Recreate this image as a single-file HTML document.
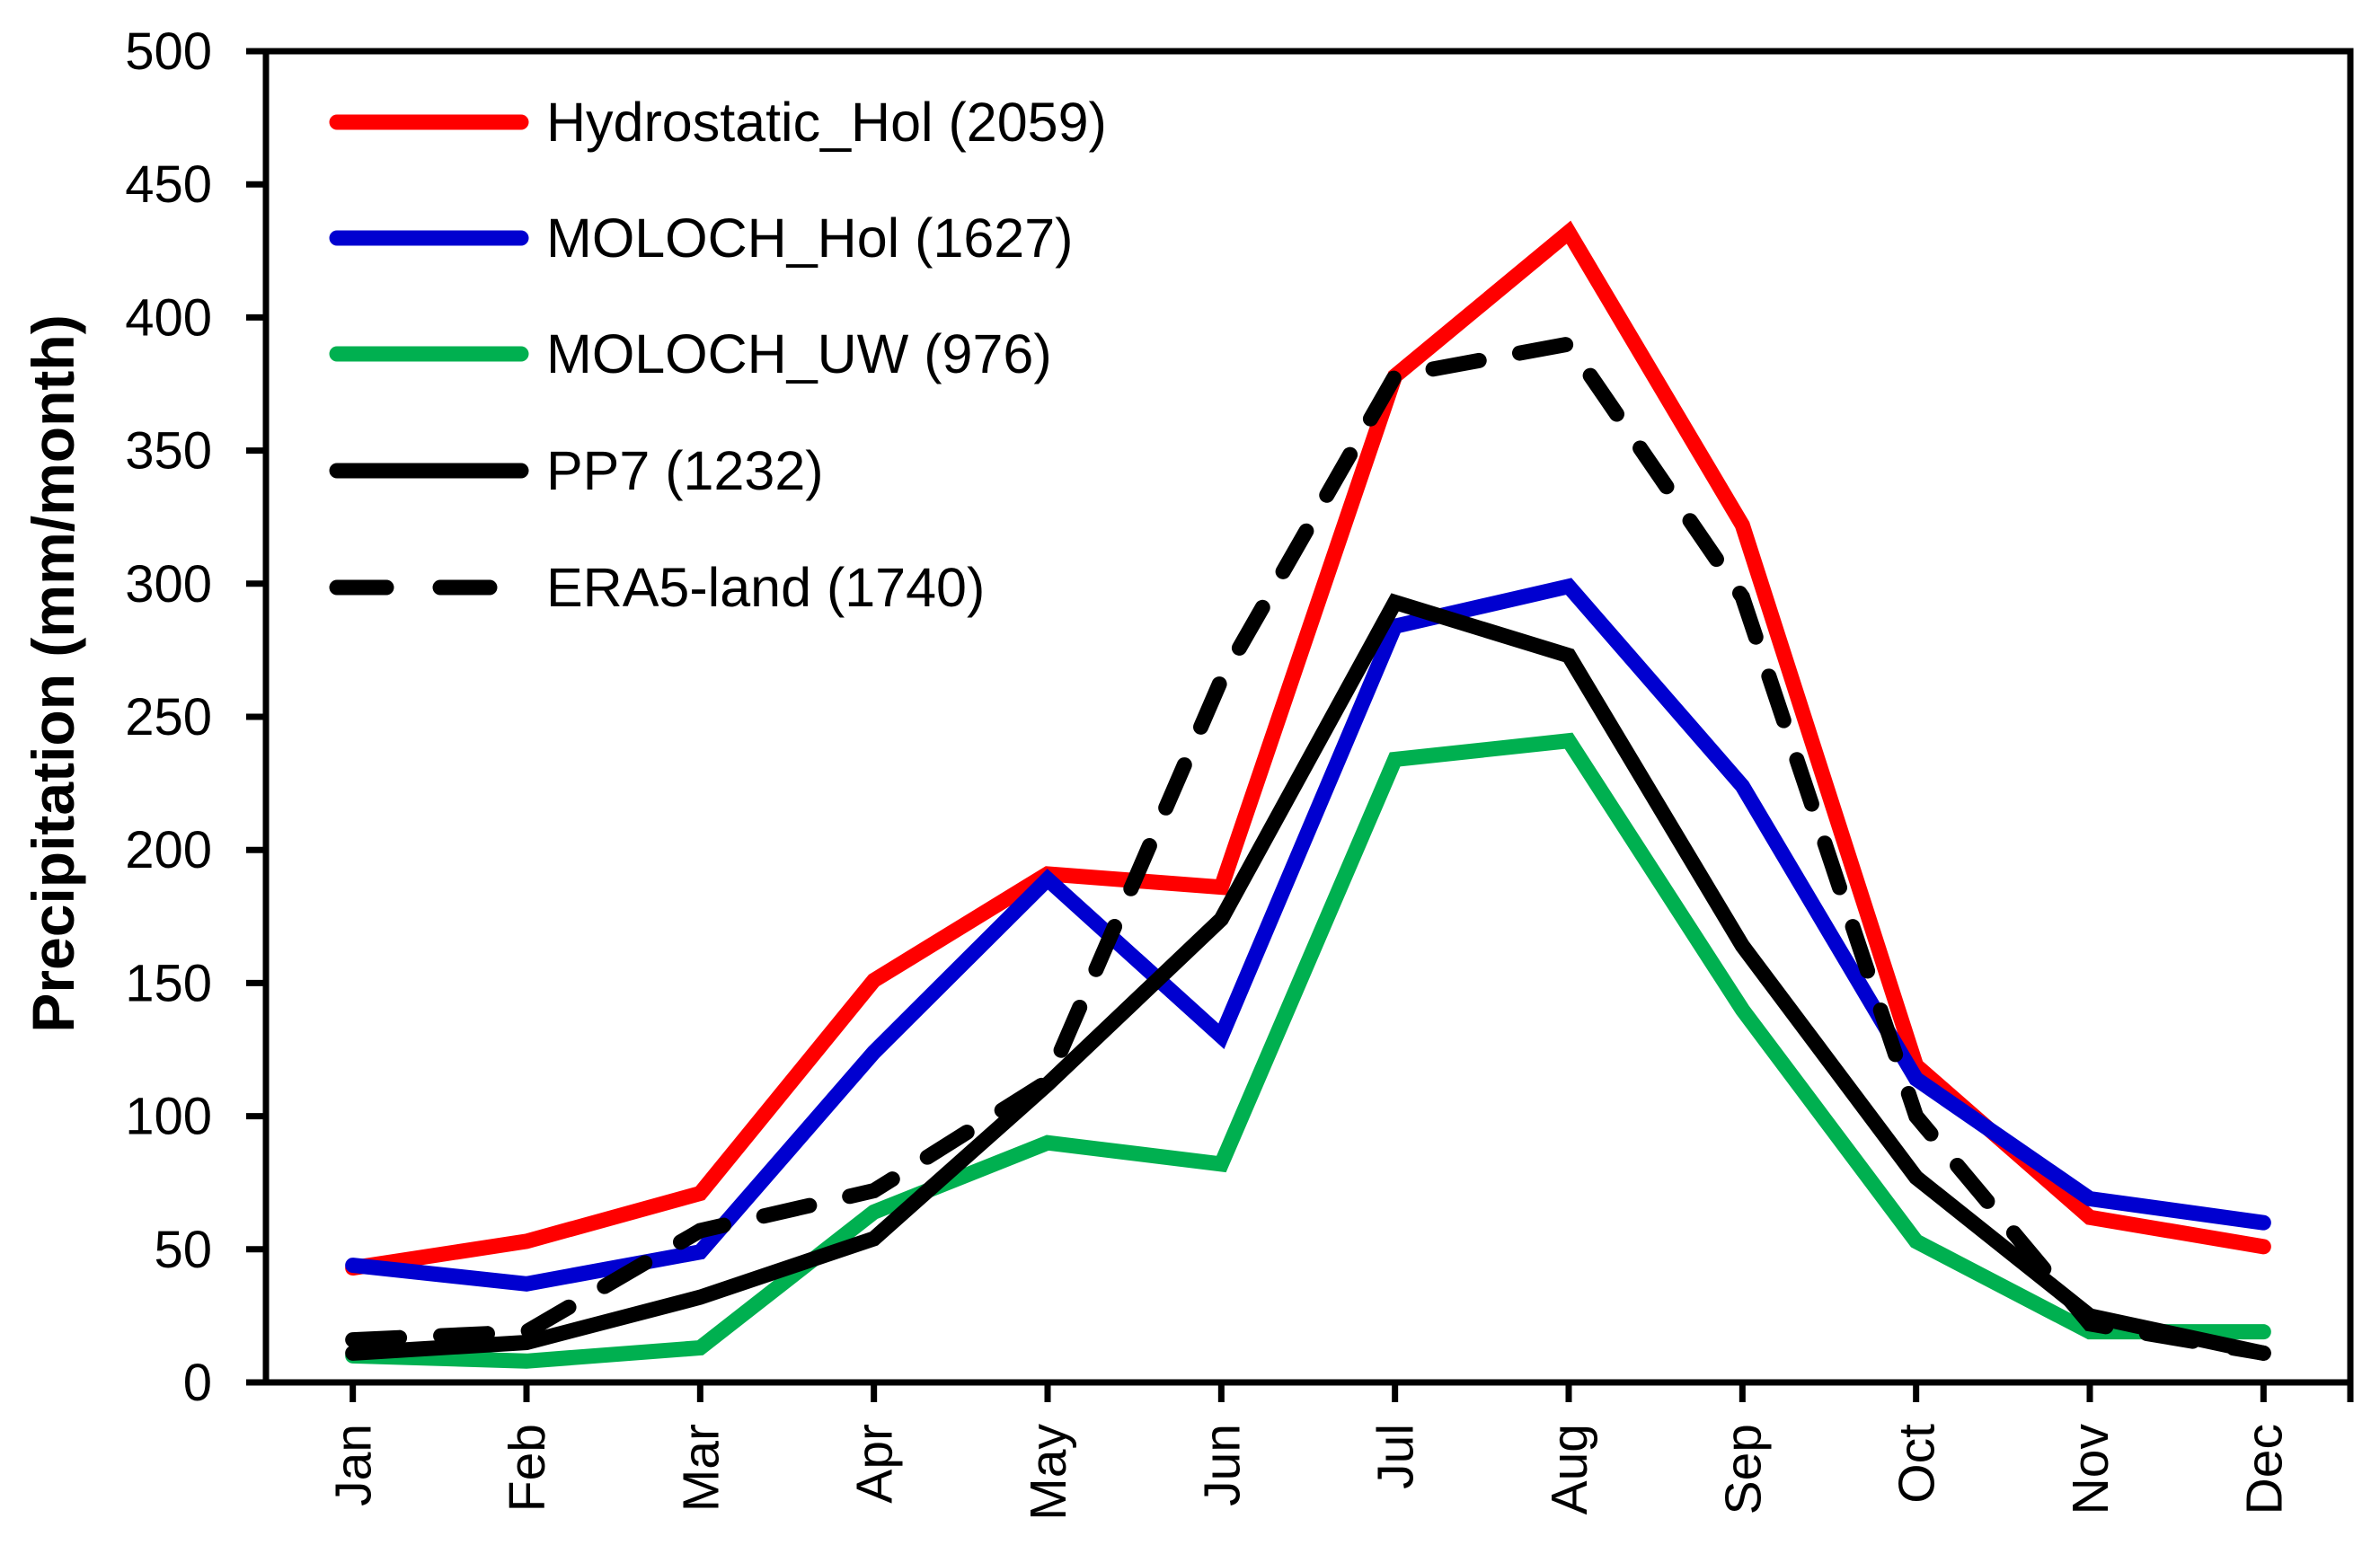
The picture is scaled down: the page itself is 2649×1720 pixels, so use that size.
<!DOCTYPE html>
<html><head><meta charset="utf-8"><style>
html,body{margin:0;padding:0;background:#fff;}
svg{display:block;font-family:"Liberation Sans",sans-serif;}
</style></head><body>
<svg id="chart" width="2649" height="1720" viewBox="0 0 2649 1720">
<g id="grid"></g><g id="series"></g><g id="axes"></g><g id="legend"></g>
</svg>
<script>
const months=["Jan","Feb","Mar","Apr","May","Jun","Jul","Aug","Sep","Oct","Nov","Dec"];
const yTicks=[0,50,100,150,200,250,300,350,400,450,500];
const hydroHol=[43,53,71,151,191,186,378,432,322,119,62,51];
const molochHol=[44,37,49,124,189,130,284,299,224,114,69,60];
const molochUW=[10,8,13,64,90,82,234,241,140,53,19,19];
const pp7=[11,15,32,54,112,174,293,273,164,77,25,11];
const era5=[16,19,57,72,113,264,378,390,295,100,22,11];
const seriesNames=["Hydrostatic_Hol (2059)","MOLOCH_Hol (1627)","MOLOCH_UW (976)","PP7 (1232)","ERA5-land (1740)"];

const NS="http://www.w3.org/2000/svg";
const L=296,R=2616,T=57,B=1539;
const band=(R-L)/months.length;
const x=i=>L+band*(i+0.5);
const y=v=>B-(v/500)*(B-T);
function mk(tag,attrs,parent){const e=document.createElementNS(NS,tag);for(const k in attrs)e.setAttribute(k,attrs[k]);parent.appendChild(e);return e;}
const S=document.getElementById('series'),A=document.getElementById('axes'),G=document.getElementById('legend');

const defs=[
 {d:hydroHol,c:"#ff0000",dash:null,n:"hydrostatic-hol-line"},
 {d:molochHol,c:"#0000d0",dash:null,n:"moloch-hol-line"},
 {d:molochUW,c:"#00b050",dash:null,n:"moloch-uw-line"},
 {d:era5,c:"#000",dash:"52 46",n:"era5-land-line"},
 {d:pp7,c:"#000",dash:null,n:"pp7-line"}
];
defs.forEach(s=>{
 const p=mk('polyline',{points:s.d.map((v,i)=>x(i)+","+y(v)).join(" "),fill:"none",stroke:s.c,"stroke-width":17,"stroke-linecap":"round","stroke-linejoin":"miter"},S);
 if(s.dash)p.setAttribute('stroke-dasharray',s.dash);
 
 
});

const fr=mk('rect',{x:L,y:T,width:R-L,height:B-T,fill:"none",stroke:"#000","stroke-width":7},A);


yTicks.forEach(v=>{
 mk('line',{x1:L-22,x2:L,y1:y(v),y2:y(v),stroke:"#000","stroke-width":7},A);
 const t=mk('text',{x:236,y:y(v)+20,"text-anchor":"end","font-size":58},A);
 t.textContent=v;
 
 
});
months.forEach((m,i)=>{
 mk('line',{x1:x(i),x2:x(i),y1:B,y2:B+22,stroke:"#000","stroke-width":7},A);
 const t=mk('text',{x:0,y:0,"text-anchor":"end","font-size":57,transform:`translate(${x(i)+20},1585) rotate(-90)`},A);
 t.textContent=m;
 
 
});
mk('line',{x1:R,x2:R,y1:B,y2:B+22,stroke:"#000","stroke-width":7},A);
const yt=mk('text',{x:0,y:0,"text-anchor":"middle","font-size":66,"font-weight":"bold",transform:"translate(82,750) rotate(-90)"},A);
yt.textContent="Precipitation (mm/month)";



const lg=[{c:"#ff0000",d:null},{c:"#0000d0",d:null},{c:"#00b050",d:null},{c:"#000",d:null},{c:"#000",d:"55 60"}];
const rowY=[136,265,394,524,654];
lg.forEach((s,i)=>{
 const g=mk('g',{},G);
 
 
 const l=mk('line',{x1:375,x2:580,y1:rowY[i],y2:rowY[i],stroke:s.c,"stroke-width":17,"stroke-linecap":"round"},g);
 if(s.d)l.setAttribute('stroke-dasharray',s.d);
 const t=mk('text',{x:608,y:rowY[i]+21,"font-size":61},g);
 t.textContent=seriesNames[i];
});
</script>
</body></html>
